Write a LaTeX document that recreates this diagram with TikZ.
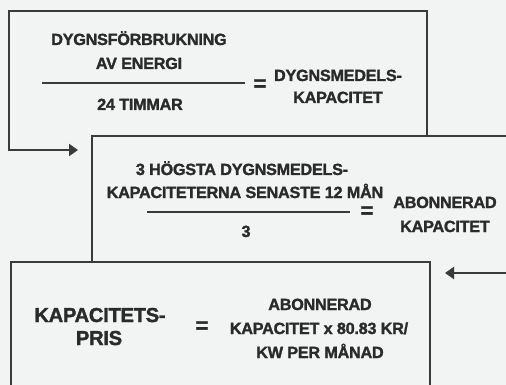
\documentclass[tikz,border=0pt]{standalone}
\usepackage{fontspec}
\setmainfont{Liberation Sans}[BoldFeatures={FakeBold=1.6,LetterSpace=-1.5}]
\usetikzlibrary{arrows.meta}
\definecolor{bg}{HTML}{F2F4F3}
\definecolor{ln}{HTML}{3A3A3A}
\definecolor{tx}{HTML}{2A2A2A}
\tikzset{
  frame/.style={draw=ln, line width=2.1pt},
  flow/.style={draw=ln, line width=2.1pt, -{Triangle[length=9pt,width=12pt]}},
  fracline/.style={draw=ln, line width=1.4pt},
  txt/.style={anchor=base, inner sep=0pt, text=tx, font=\bfseries\fontsize{16.2}{18}\selectfont},
  big/.style={anchor=base, inner sep=0pt, text=tx, font=\bfseries\fontsize{20.2}{22}\selectfont},
  eqs/.style={inner sep=0pt, text=tx, font=\bfseries\fontsize{22}{22}\selectfont},
}
\begin{document}
\begin{tikzpicture}[x=1pt,y=-1pt]
\fill[bg] (0,0) rectangle (506,385);
\useasboundingbox (0,0) rectangle (506,385);
\begin{scope}
\clip (0,0) rectangle (506,385);
% named coordinates
\coordinate (b1r) at (427,136);
\coordinate (b1tr) at (427,11);
\coordinate (b1tl) at (9,11);
\coordinate (b1bl) at (9,150);
\coordinate (a1) at (78,150);
\coordinate (b2r) at (510,136);
\coordinate (b2tl) at (92,136);
\coordinate (b2bl) at (92,262);
\coordinate (b3bl) at (11,390);
\coordinate (b3tl) at (11,262);
\coordinate (b3tr) at (430,262);
\coordinate (b3br) at (430,390);
\coordinate (a2s) at (510,273);
\coordinate (a2) at (445,273);
% box 1 with its arrow
\draw[flow] (b1r) -- (b1tr) -- (b1tl) -- (b1bl) -- (a1);
% box 2
\draw[frame] (b2r) -- (b2tl) -- (b2bl);
% box 3
\draw[frame] (b3bl) -- (b3tl) -- (b3tr) -- (b3br);
% arrow into box 3
\draw[flow] (a2s) -- (a2);
\end{scope}
% box 1 text
\node[txt] (n1a) at (139,45) {DYGNSFÖRBRUKNING};
\node[txt] (n1b) at (139,69) {AV ENERGI};
\coordinate (f1l) at (42,83);
\coordinate (f1r) at (245,83);
\draw[fracline] (f1l) -- (f1r);
\node[txt] (d1) at (140,110) {24 TIMMAR};
\node[eqs] (eq1) at (260,85) {=};
\node[txt] (r1a) at (338,81) {DYGNSMEDELS-};
\node[txt] (r1b) at (338,103) {KAPACITET};
% box 2 text
\node[txt] (n2a) at (242,175) {3 HÖGSTA DYGNSMEDELS-};
\node[txt] (n2b) at (245,198) {KAPACITETERNA SENASTE 12 MÅN};
\coordinate (f2l) at (147,212);
\coordinate (f2r) at (350,212);
\draw[fracline] (f2l) -- (f2r);
\node[txt] (d2) at (246,237) {3};
\node[eqs] (eq2) at (367,212) {=};
\node[txt] (r2a) at (445,208) {ABONNERAD};
\node[txt] (r2b) at (445,232) {KAPACITET};
% box 3 text
\node[big] (l3a) at (100,322) {KAPACITETS-};
\node[big] (l3b) at (99,345) {PRIS};
\node[eqs] (eq3) at (202,327) {=};
\node[txt] (r3a) at (320,310) {ABONNERAD};
\node[txt] (r3b) at (319,334) {KAPACITET x 80.83 KR/};
\node[txt] (r3c) at (320,358) {KW PER MÅNAD};
\end{tikzpicture}
\end{document}
